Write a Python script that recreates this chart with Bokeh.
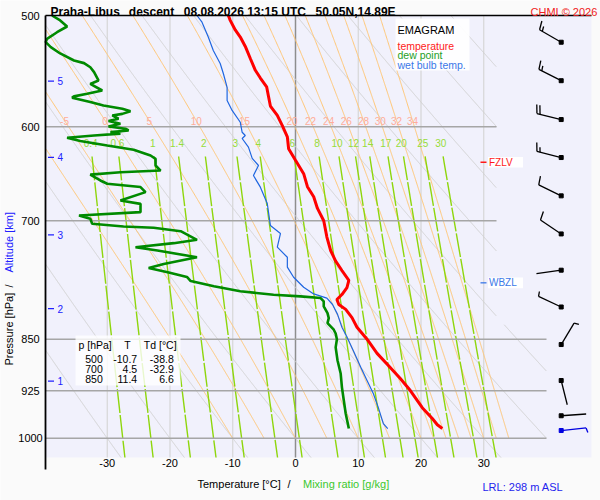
import numpy as np
from bokeh.plotting import figure
from bokeh.models import Range1d
from bokeh.core.properties import value
from bokeh.embed import file_html
from bokeh.resources import INLINE

# ---------------- data ----------------
temp_p = [500, 504, 512, 518, 526, 536.5, 547, 554, 562, 571, 580, 589, 599, 610, 622, 634,
          648, 662, 673, 686, 700, 719, 735, 748, 759.5, 772, 781, 790, 796.5, 803, 809.5,
          820.5, 833.5, 850, 870, 887.5, 906.6, 924.7, 951, 968, 978, 984]
temp_T = [-10.7, -10.4, -9.6, -8.8, -8.0, -7.2, -6.4, -5.6, -4.6, -4.3, -4.0, -2.9, -2.1, -1.3,
          -1.1, 0.0, 1.3, 1.9, 2.9, 3.5, 4.5, 5.0, 5.6, 6.4, 7.4, 8.5, 8.2, 7.4, 6.6, 6.9, 8.0,
          9.0, 9.8, 11.4, 13.0, 14.8, 16.7, 18.3, 20.2, 21.8, 22.6, 23.4]

dew_p = [500, 504.1, 509.1, 513.9, 519.5, 522.3, 526.6, 532.1, 538.3, 540.6, 544.3, 548.6,
         556.2, 559.4, 565.4, 568.4, 570.9, 572.1, 576.2, 579.5, 582.6, 585.0, 587.5, 589.0,
         592.2, 594.5, 597.0, 599.8, 602.0, 603.7, 605.3, 606.8, 608.7, 611.0, 614.3, 618.8,
         623.1, 629.0, 632.4, 639.4, 644.7, 646.5, 649.0, 655.3, 658.8, 662.4, 667.9, 677.2,
         680.9, 690.2, 694.0, 697.8, 703.5, 706.6, 708.1, 712.1, 722.2, 726.2, 731.0, 735.0,
         743.2, 751.5, 756.5, 762.0, 767.6, 772.8, 779.3, 785.8, 790.2, 792.4, 794.6, 798.9,
         805.5, 814.4, 821.1, 827.9, 836.9, 842.1, 850, 861.5, 880.2, 899.2, 919.8, 939.9,
         960.2, 984.1]
dew_T = [-38.8, -37.5, -36.4, -38.0, -39.6, -39.8, -39.0, -37.5, -35.3, -33.7, -32.7, -32.1,
         -31.4, -32.7, -30.8, -33.2, -35.3, -35.6, -32.7, -30.6, -27.6, -26.3, -27.6, -29.2,
         -28.2, -29.8, -27.9, -29.8, -27.1, -26.6, -29.5, -27.9, -32.1, -36.4, -34.3, -30.0,
         -25.8, -23.1, -22.3, -22.3, -21.5, -27.9, -32.7, -31.1, -30.0, -24.7, -23.9, -27.9,
         -24.7, -24.7, -34.5, -32.7, -32.4, -27.4, -22.6, -18.3, -15.7, -19.4, -25.5, -22.0,
         -15.7, -21.0, -23.4, -20.2, -17.3, -16.7, -13.0, -8.8, -3.5, 0.8, 4.0, 4.5,
         4.5, 5.1, 5.3, 5.1, 6.1, 6.4, 6.6, 6.4, 6.7, 7.2, 7.4, 7.7,
         8.0, 8.5]

wb_p = [500, 505.5, 518, 529.5, 540.9, 549.9, 562.6, 574.7, 584.2, 595.6, 605.5, 608.7, 611.7,
        620.4, 632, 639.4, 650, 662.5, 680.5, 705.4, 714.8, 731.0, 743.2, 755.3, 767.9, 780.6,
        789.2, 794.6, 803.0, 816.1, 833.5, 846.9, 865.9, 889.9, 909.6, 929.2, 950.9, 976.1, 984.1]
wb_T = [-15.7, -14.9, -13.9, -13.1, -12.0, -11.5, -10.9, -10.9, -10.1, -8.8, -8.5, -8.0, -8.5,
        -7.5, -6.9, -5.9, -6.7, -5.6, -4.5, -4.0, -2.4, -2.9, -1.3, -1.3, -0.3, 1.3,
        2.9, 5.0, 5.9, 6.7, 7.4, 8.2, 9.2, 10.4, 11.4, 12.4, 13.2, 14.0, 14.7]

pressure_ticks = [500, 600, 700, 850, 925, 1000]
pressure_lines = [600, 700, 850, 925, 1000]
temp_ticks = [-30, -20, -10, 0, 10, 20, 30]
isotherms = [-30, -20, -10, 10, 20, 30]
dry_theta = list(range(-30, 160, 10))
moist_thetaw = [-10, -5, 0, 5, 10, 15, 20, 22, 24, 26, 28, 30, 32, 34]
mixing_ratios = [0.4, 0.6, 1, 1.4, 2, 3, 4, 6, 8, 10, 12, 14, 17, 20, 25, 30]

alt_km = [1, 2, 3, 4, 5]
alt_p = [910.5, 808.4, 716.4, 631.0, 556.8]

wind_p = [522.4, 556.4, 593.0, 631.1, 672.0, 715.3, 759.1, 806.3, 857.5, 909.6, 963.7, 987.3]
wind_dir = [300, 297, 284, 284, 296, 304, 262, 295, 31, 166, 86, 84]
wind_kt = [15, 15, 20, 15, 10, 10, 2, 5, 5, 2, 2, 5]

table_p = [500, 700, 850]
table_T = [-10.7, 4.5, 11.4]
table_Td = [-38.8, -32.9, 6.6]

fzlv_p = 636.0
wbzl_p = 775.0

# ---------------- geometry (pixel calibration of the canvas) ----------------
W, H = 600, 500
X0, XS = 295.0, 6.275      # pixel of 0 degC, pixels per degC
Y0, YS = 15.0, 610.0       # pixel of 500 hPa, pixels per ln(p)
LN500 = np.log(500.0)


def tx(px):
    return (np.asarray(px, float) - X0) / XS


def ly(py):
    return LN500 + (np.asarray(py, float) - Y0) / YS


T_LEFT, T_RIGHT = float(tx(45)), float(tx(591))
LN_TOP, LN_BOT = LN500, float(ly(457))
T_UP, T_LOW = float(tx(496)), float(tx(546))


def tmax(pr):
    return np.where(np.asarray(pr) < 830, T_UP, T_LOW)


OUTER = "#fafafa"
BG = "#f1f1fc"
FONT = value("Liberation Sans")

p = figure(width=W, height=H, x_range=Range1d(float(tx(0)), float(tx(W))),
           y_range=Range1d(float(ly(H)), float(ly(0))), output_backend="svg",
           toolbar_location=None, min_border=0, x_axis_location=None,
           y_axis_location=None, tools="", title=None)
p.grid.visible = False
p.outline_line_color = None
p.background_fill_color = OUTER
p.border_fill_color = OUTER

# diagram background
p.quad(left=[T_LEFT], right=[T_RIGHT], top=[LN_TOP], bottom=[LN_BOT],
       fill_color=BG, line_color=None)


def split_segments(xs, ys, mask):
    out_x, out_y, cx, cy = [], [], [], []
    for x, y, m in zip(xs, ys, mask):
        if m:
            cx.append(float(x)); cy.append(float(y))
        else:
            if len(cx) > 1:
                out_x.append(cx); out_y.append(cy)
            cx, cy = [], []
    if len(cx) > 1:
        out_x.append(cx); out_y.append(cy)
    return out_x, out_y


# isotherms
p.segment(x0=isotherms, y0=[LN_TOP] * len(isotherms), x1=isotherms,
          y1=[LN_BOT] * len(isotherms), line_color="#d6d6d6", line_width=1.2)
p.segment(x0=[0], y0=[LN_TOP], x1=[0], y1=[LN_BOT], line_color="#8e8e8e", line_width=1.5)

# dry adiabats
pp = np.exp(np.linspace(LN_TOP, LN_BOT, 900))
dx, dy = [], []
for th in dry_theta:
    T = (th + 273.15) * (pp / 1000.0) ** 0.2857 - 273.15
    m = (T >= T_LEFT) & (T <= tmax(pp))
    sx, sy = split_segments(T, np.log(pp), m)
    dx += sx; dy += sy
p.multi_line(dx, dy, line_color="#d2d2d2", line_width=1)


# moist (pseudo) adiabats
def es(tc):
    return 6.112 * np.exp(17.67 * tc / (tc + 243.5))


def dTdp(T, pr):
    e = es(T - 273.15)
    rs = 0.622 * e / (pr - e)
    return (287.04 * T + 2.501e6 * rs) / (1005.7 + 2.501e6 ** 2 * rs * 0.622 / (287.04 * T ** 2)) / pr


pm = np.arange(1000.0, 499.0, -1.0)
Tk = np.array(moist_thetaw, float) + 273.15
Tm = np.zeros((len(moist_thetaw), len(pm)))
Tm[:, 0] = Tk
for i in range(1, len(pm)):
    h = pm[i] - pm[i - 1]
    a = pm[i - 1]
    k1 = dTdp(Tk, a)
    k2 = dTdp(Tk + 0.5 * h * k1, a + 0.5 * h)
    k3 = dTdp(Tk + 0.5 * h * k2, a + 0.5 * h)
    k4 = dTdp(Tk + h * k3, a + h)
    Tk = Tk + h * (k1 + 2 * k2 + 2 * k3 + k4) / 6.0
    Tm[:, i] = Tk
Tm -= 273.15
mx, my = [], []
for k in range(len(moist_thetaw)):
    m = (Tm[k] >= T_LEFT) & (Tm[k] <= tmax(pm))
    sx, sy = split_segments(Tm[k], np.log(pm), m)
    mx += sx; my += sy
p.multi_line(mx, my, line_color="#ffc676", line_width=1)

# mixing ratio lines
pw = np.exp(np.linspace(np.log(630.0), LN_BOT, 300))


def td_from_w(w, pr):
    e = w * pr / (622.0 + w)
    g = np.log(e / 6.112)
    return 243.5 * g / (17.67 - g)


wx, wy = [], []
for w in mixing_ratios:
    wx.append(list(td_from_w(w, pw))); wy.append(list(np.log(pw)))
p.multi_line(wx, wy, line_color="#8ed60c", line_width=1.4, line_dash="24 2")

# pressure lines
p.segment(x0=[T_LEFT] * len(pressure_lines), y0=list(np.log(pressure_lines)),
          x1=list(tmax(pressure_lines)), y1=list(np.log(pressure_lines)),
          line_color="#a6a6a6", line_width=1.4)

# labels of moist adiabats (at 594 hPa) and mixing ratio lines (at 616 hPa)
lab_x, lab_t = [], []
for k, t in enumerate(moist_thetaw):
    xv = float(np.interp(594.0, pm[::-1], Tm[k][::-1]))
    if xv > T_LEFT + 2:
        lab_x.append(xv); lab_t.append(f"{t:g}")
p.text(x=lab_x, y=[np.log(594.0)] * len(lab_x), text=lab_t, text_color="#ffad9a",
       text_font=FONT, text_font_size="10px", text_align="center", text_baseline="middle")
p.text(x=[float(td_from_w(w, 616.0)) for w in mixing_ratios], y=[np.log(616.0)] * len(mixing_ratios),
       text=[f"{w:g}" for w in mixing_ratios], text_color="#97dc3a", text_font=FONT,
       text_font_size="10px", text_align="center", text_baseline="middle")

# profiles
p.line(wb_T, list(np.log(wb_p)), line_color="#1f66e0", line_width=1.2)
p.line(dew_T, list(np.log(dew_p)), line_color="#008a00", line_width=2.6)
p.line(temp_T, list(np.log(temp_p)), line_color="#ff0000", line_width=3)

# axis lines
p.segment(x0=[T_LEFT], y0=[LN_TOP], x1=[T_LEFT], y1=[float(ly(469))], line_color="black", line_width=1.8)
p.segment(x0=[T_LEFT], y0=[LN_TOP], x1=[T_RIGHT], y1=[LN_TOP], line_color="black", line_width=1.5)

# tick labels
p.text(x=[float(tx(30))] * len(pressure_ticks), y=list(np.log(pressure_ticks)),
       text=[str(v) for v in pressure_ticks], text_color="black", text_font=FONT,
       text_font_size="11px", text_align="center", text_baseline="middle")
p.text(x=temp_ticks, y=[float(ly(462.5))] * len(temp_ticks), text=[str(v) for v in temp_ticks],
       text_color="black", text_font=FONT, text_font_size="11px", text_align="center",
       text_baseline="middle")

# altitude marks
p.segment(x0=[float(tx(47.5))] * len(alt_km), y0=list(np.log(alt_p)),
          x1=[float(tx(53.5))] * len(alt_km), y1=list(np.log(alt_p)), line_color="#2020ff", line_width=1.3)
p.text(x=[float(tx(57))] * len(alt_km), y=list(np.log(alt_p)), text=[str(v) for v in alt_km],
       text_color="#2020ff", text_font=FONT, text_font_size="10px", text_align="left",
       text_baseline="middle")


def put(px, py, s, color="black", size="11px", align="left", baseline="middle", style="normal", angle=0.0):
    p.text(x=[float(tx(px))], y=[float(ly(py))], text=[s], text_color=color, text_font=FONT,
           text_font_size=size, text_align=align, text_baseline=baseline, text_font_style=style,
           angle=angle)


def box(x0, x1, y0, y1, alpha=1.0):
    p.quad(left=[float(tx(x0))], right=[float(tx(x1))], top=[float(ly(y0))], bottom=[float(ly(y1))],
           fill_color="white", fill_alpha=alpha, line_color=None)


# title
put(50, 11.5, "Praha-Libus", size="12px", baseline="alphabetic", style="bold")
put(128.3, 11.5, "descent", size="12px", baseline="alphabetic", style="bold")
put(183.3, 11.5, "08.08.2026 13:15 UTC", size="12px", baseline="alphabetic", style="bold")
put(315, 11.5, "50.05N,14.89E", size="12px", baseline="alphabetic", style="bold")
put(530, 11.5, "CHMI \u00a9 2026", color="#f02020", size="11px", baseline="alphabetic")

# axis titles
put(8, 365, "Pressure [hPa]", angle=np.pi / 2)
put(8, 287, "/", angle=np.pi / 2)
put(8, 272, "Altitude [km]", color="#2020ff", angle=np.pi / 2)
put(197, 483.5, "Temperature [\u00b0C]", baseline="alphabetic")
put(287, 483.5, "/", baseline="alphabetic")
put(302.5, 483.5, "Mixing ratio [g/kg]", color="#3cc82e", baseline="alphabetic")
put(482, 486, "LRL: 298 m ASL", color="#2424ee", baseline="alphabetic")

# legend box
box(395, 469, 18, 70, 0.92)
put(397, 29.5, "EMAGRAM", size="11px", baseline="alphabetic")
put(397, 45, "temperature", color="#ff1a1a", size="10.5px", baseline="alphabetic")
put(397, 54.5, "dew point", color="#1f9f1f", size="10.5px", baseline="alphabetic")
put(397, 64.5, "wet bulb temp.", color="#3a78e8", size="10.5px", baseline="alphabetic")

# table box
box(75, 180, 335, 385, 0.8)
put(78, 344, "p [hPa]", size="10.5px")
put(127, 344, "T", size="10.5px", align="center")
put(143.3, 344, "Td [\u00b0C]", size="10.5px")
row_y = [358.8, 368.8, 378.8]
p.text(x=[float(tx(102.3))] * 3, y=list(ly(row_y)), text=[str(v) for v in table_p], text_color="black",
       text_font=FONT, text_font_size="10.5px", text_align="right", text_baseline="middle")
p.text(x=[float(tx(136.7))] * 3, y=list(ly(row_y)), text=[f"{v:.1f}" for v in table_T], text_color="black",
       text_font=FONT, text_font_size="10.5px", text_align="right", text_baseline="middle")
p.text(x=[float(tx(173.3))] * 3, y=list(ly(row_y)), text=[f"{v:.1f}" for v in table_Td], text_color="black",
       text_font=FONT, text_font_size="10.5px", text_align="right", text_baseline="middle")

# freezing level / wet bulb zero markers
for lev, name, col in [(fzlv_p, "FZLV", "#ff1a1a"), (wbzl_p, "WBZL", "#3a78e8")]:
    yy = float(np.log(lev))
    p.segment(x0=[float(tx(480))], y0=[yy], x1=[float(tx(486))], y1=[yy], line_color=col, line_width=1.3)
    p.quad(left=[float(tx(487.5))], right=[float(tx(522.5))], top=[yy - 5.3 / YS], bottom=[yy + 5.3 / YS],
           fill_color="white", line_color=None)
    p.text(x=[float(tx(488.5))], y=[yy], text=[name], text_color=col, text_font=FONT,
           text_font_size="10px", text_align="left", text_baseline="middle")

# wind barbs
BX, L, FULL, HALF, SP = 560.7, 25.0, 9.0, 5.0, 3.2
lean = np.radians(15)
for i, (pr, d, s) in enumerate(zip(wind_p, wind_dir, wind_kt)):
    col = "#0000e0" if i == len(wind_p) - 1 else "black"
    py = Y0 + YS * (np.log(pr) - LN500)
    th = np.radians(d)
    ux, uy = np.sin(th), -np.cos(th)
    tipx, tipy = BX + L * ux, py + L * uy
    px_ = -uy; py_ = ux
    fx = px_ * np.cos(lean) + ux * np.sin(lean)
    fy = py_ * np.cos(lean) + uy * np.sin(lean)
    xs0, ys0, xs1, ys1 = [BX], [py], [tipx], [tipy]
    sr = int(round(s / 5.0)) * 5
    nfull = sr // 10
    nhalf = 1 if sr % 10 else 0
    for k in range(nfull):
        bxk, byk = tipx - k * SP * ux, tipy - k * SP * uy
        xs0.append(bxk); ys0.append(byk); xs1.append(bxk + FULL * fx); ys1.append(byk + FULL * fy)
    if nhalf:
        k = nfull
        bxk, byk = tipx - k * SP * ux, tipy - k * SP * uy
        xs0.append(bxk); ys0.append(byk); xs1.append(bxk + HALF * fx); ys1.append(byk + HALF * fy)
    p.segment(x0=list(tx(xs0)), y0=list(ly(ys0)), x1=list(tx(xs1)), y1=list(ly(ys1)),
              line_color=col, line_width=1.3)
    p.scatter(x=[float(tx(BX))], y=[float(ly(py))], marker="square", size=4, fill_color=col, line_color=col)

open("out.html", "w").write(file_html(p, INLINE))
